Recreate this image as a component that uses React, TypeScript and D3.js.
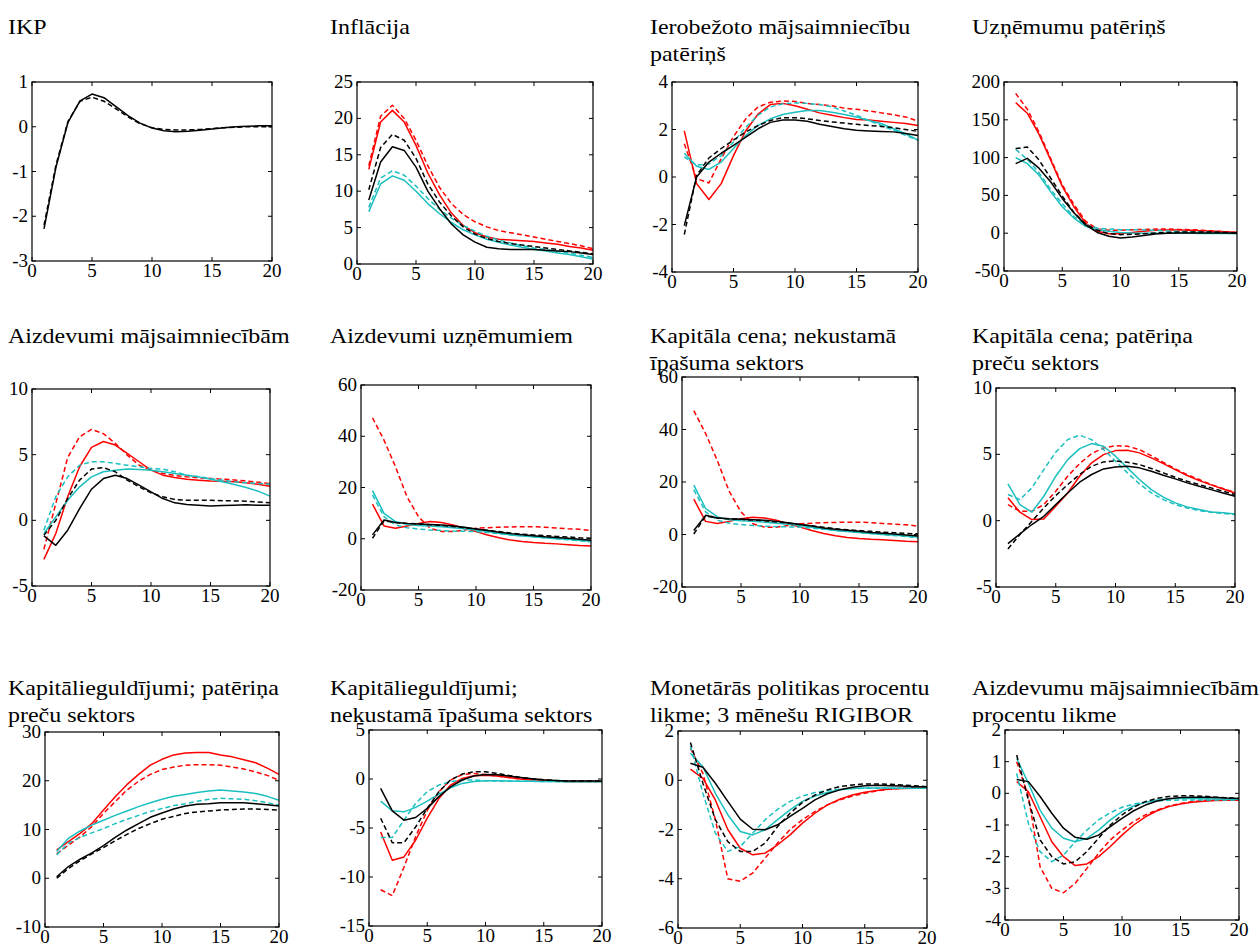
import * as d3 from 'd3';
import React from 'react';

// shared horizon (quarters)
const horizon = [1, 2, 3, 4, 5, 6, 7, 8, 9, 10, 11, 12, 13, 14, 15, 16, 17, 18, 19, 20];
const xTicks = [0, 5, 10, 15, 20];

const RED = '#ff0000';
const CYAN = '#1cbfbf';
const BLACK = '#000000';

// IKP
const ikpBlack = [-2.28, -0.9, 0.1, 0.58, 0.73, 0.65, 0.45, 0.25, 0.08, -0.03, -0.09, -0.11, -0.1, -0.08, -0.05, -0.02, 0.0, 0.01, 0.02, 0.02];
const ikpBlackDash = [-2.2, -0.85, 0.12, 0.57, 0.66, 0.57, 0.4, 0.22, 0.07, -0.02, -0.06, -0.07, -0.07, -0.06, -0.04, -0.02, -0.01, 0.0, 0.0, 0.0];

// Inflacija
const infRed = [13, 19.5, 21.1, 19.5, 16.3, 12.5, 9.5, 7.0, 5.3, 4.3, 3.7, 3.4, 3.3, 3.2, 3.1, 2.9, 2.7, 2.4, 2.2, 1.9];
const infRedDash = [13.5, 20.3, 21.8, 20.0, 17.0, 13.5, 10.5, 8.3, 6.8, 5.8, 5.1, 4.6, 4.3, 4.0, 3.7, 3.4, 3.1, 2.8, 2.5, 2.1];
const infCyan = [7.2, 11.0, 12.1, 11.5, 10.0, 8.3, 6.9, 5.7, 4.7, 4.0, 3.4, 3.0, 2.6, 2.3, 2.0, 1.8, 1.5, 1.3, 1.0, 0.7];
const infCyanDash = [7.8, 11.8, 12.8, 12.2, 10.7, 9.0, 7.5, 6.3, 5.3, 4.5, 3.8, 3.3, 2.9, 2.5, 2.2, 2.0, 1.7, 1.5, 1.2, 0.9];
const infBlack = [8.8, 14.0, 16.1, 15.6, 13.3, 10.0, 7.6, 5.5, 4.0, 3.0, 2.3, 2.1, 2.0, 2.0, 2.0, 1.9, 1.8, 1.7, 1.5, 1.3];
const infBlackDash = [10.2, 16.0, 17.8, 17.0, 14.5, 11.0, 8.5, 6.6, 5.1, 4.1, 3.5, 3.1, 2.8, 2.6, 2.4, 2.2, 2.0, 1.8, 1.6, 1.4];

// Ierobezoto majsaimniecibu paterins
const hhRed = [1.94, -0.28, -0.95, -0.28, 0.9, 1.95, 2.65, 3.05, 3.1, 3.0, 2.85, 2.7, 2.6, 2.5, 2.42, 2.4, 2.35, 2.3, 2.25, 2.17];
const hhRedDash = [1.4, -0.07, -0.25, 0.77, 1.7, 2.45, 2.95, 3.15, 3.2, 3.18, 3.1, 3.05, 3.0, 2.9, 2.85, 2.78, 2.7, 2.62, 2.53, 2.35];
const hhCyan = [1.0, 0.45, 0.32, 0.63, 1.2, 1.75, 2.17, 2.45, 2.63, 2.73, 2.8, 2.8, 2.73, 2.63, 2.53, 2.38, 2.25, 2.03, 1.82, 1.55];
const hhCyanDash = [0.85, 0.5, 0.55, 0.9, 1.47, 2.1, 2.6, 2.95, 3.08, 3.12, 3.1, 3.05, 2.95, 2.78, 2.6, 2.38, 2.17, 1.97, 1.75, 1.55];
const hhBlack = [-2.05, 0.0, 0.63, 1.0, 1.33, 1.68, 2.03, 2.3, 2.4, 2.4, 2.35, 2.22, 2.13, 2.03, 1.97, 1.94, 1.92, 1.9, 1.83, 1.75];
const hhBlackDash = [-2.42, 0.07, 0.8, 1.2, 1.55, 1.9, 2.17, 2.38, 2.5, 2.5, 2.45, 2.38, 2.32, 2.27, 2.22, 2.17, 2.13, 2.08, 2.0, 1.92];

// Uznemumu paterins
const firmRed = [172.8, 158.7, 131, 97, 62, 35, 13.5, 2.5, -0.6, -0.6, 1, 2.5, 3.8, 4.2, 4.2, 3.8, 3.3, 2.5, 2, 1];
const firmRedDash = [185, 164, 134, 99, 64, 38, 16, 5.5, 3.8, 3.8, 4.6, 5, 5.5, 5.5, 5, 4.6, 3.8, 3, 2, 1];
const firmCyan = [100, 92, 77, 55, 35, 20, 9, 4.6, 2.5, 1, 0.3, 0, 0, 0, 0, -0.2, -0.3, -0.4, -0.5, -0.6];
const firmCyanDash = [111, 97.6, 80, 58, 39, 22, 11, 6.8, 5.5, 4.6, 4.6, 4.2, 3.8, 3, 2.5, 2, 1.6, 1, 0.7, 0.3];
const firmBlack = [92, 99, 86, 68, 46, 27, 11, 1, -4, -6.3, -5, -3, -1, 0, 0.3, 0.3, 0.3, 0.3, 0.3, 0];
const firmBlackDash = [112, 114, 97, 73, 49, 27.5, 12, 4, -0.6, -2, -1.5, -0.6, 0.3, 1, 1.6, 1.6, 1.6, 1.6, 1, 0.7];

// Aizdevumi majsaimniecibam
const loanHhRed = [-2.97, -1.0, 1.8, 4.08, 5.55, 6.0, 5.73, 5.1, 4.46, 3.82, 3.44, 3.26, 3.13, 3.06, 3.0, 2.98, 2.93, 2.86, 2.75, 2.6];
const loanHhRedDash = [-2.2, 1.28, 4.78, 6.36, 6.92, 6.6, 5.86, 4.97, 4.2, 3.82, 3.57, 3.41, 3.31, 3.24, 3.19, 3.13, 3.08, 3.0, 2.9, 2.8];
const loanHhCyan = [-1.0, 0.26, 1.53, 2.55, 3.31, 3.7, 3.82, 3.9, 3.87, 3.82, 3.7, 3.57, 3.44, 3.31, 3.13, 2.93, 2.73, 2.5, 2.22, 1.84];
const loanHhCyanDash = [-0.75, 1.8, 3.31, 4.2, 4.46, 4.46, 4.33, 4.2, 4.08, 3.95, 3.9, 3.7, 3.44, 3.31, 3.19, 3.06, 2.93, 2.86, 2.8, 2.75];
const loanHhBlack = [-1.19, -1.9, -0.75, 0.89, 2.37, 3.18, 3.44, 3.18, 2.68, 2.17, 1.66, 1.33, 1.2, 1.15, 1.1, 1.13, 1.15, 1.18, 1.15, 1.15];
const loanHhBlackDash = [-1.14, 0.0, 1.66, 3.06, 3.9, 4.02, 3.7, 3.06, 2.55, 2.09, 1.79, 1.59, 1.53, 1.53, 1.53, 1.5, 1.48, 1.46, 1.4, 1.33];

// Aizdevumi uznemumiem
const loanFirmRed = [13.5, 5.0, 4.1, 5.0, 6.0, 6.7, 6.3, 5.4, 4.1, 2.8, 1.5, 0.4, -0.5, -1.1, -1.5, -1.8, -2.0, -2.3, -2.6, -2.8];
const loanFirmRedDash = [47.2, 38.5, 28.1, 16.4, 8.6, 4.1, 2.8, 2.8, 3.4, 4.1, 4.3, 4.5, 4.6, 4.7, 4.7, 4.5, 4.2, 3.9, 3.7, 3.2];
const loanFirmCyan = [18.8, 9.9, 6.7, 5.6, 5.2, 5.0, 4.7, 4.3, 3.9, 3.4, 2.8, 2.1, 1.5, 1.1, 0.8, 0.4, 0.0, -0.2, -0.6, -1.0];
const loanFirmCyanDash = [17.1, 8.6, 5.4, 4.3, 3.8, 3.4, 3.2, 3.0, 2.9, 2.8, 2.4, 2.0, 1.6, 1.2, 0.8, 0.4, 0.0, -0.4, -0.8, -1.2];
const loanFirmBlack = [1.5, 7.3, 6.3, 6.0, 5.8, 5.6, 5.4, 5.0, 4.5, 3.8, 3.2, 2.5, 2.0, 1.6, 1.2, 0.8, 0.5, 0.2, -0.2, -0.6];
const loanFirmBlackDash = [0.2, 7.0, 6.3, 6.0, 5.8, 5.5, 5.2, 4.8, 4.3, 3.8, 3.3, 2.8, 2.2, 1.8, 1.5, 1.2, 0.9, 0.7, 0.4, 0.2];

// Kapitala cena; nekustama ipasuma sektors
const qHouseRed = [13.5, 5.0, 4.2, 5.0, 6.0, 6.6, 6.3, 5.4, 4.1, 2.8, 1.5, 0.4, -0.5, -1.1, -1.5, -1.8, -2.0, -2.3, -2.6, -2.8];
const qHouseRedDash = [47.2, 38.5, 28.1, 16.4, 8.6, 4.1, 2.8, 2.8, 3.4, 4.1, 4.3, 4.5, 4.6, 4.7, 4.7, 4.5, 4.2, 3.9, 3.7, 3.2];
const qHouseCyan = [18.8, 9.9, 6.7, 5.6, 5.2, 5.0, 4.7, 4.3, 3.9, 3.4, 2.8, 2.1, 1.5, 1.1, 0.8, 0.4, 0.0, -0.2, -0.6, -1.0];
const qHouseCyanDash = [17.1, 8.6, 5.4, 4.3, 3.8, 3.4, 3.2, 3.0, 2.9, 2.8, 2.4, 2.0, 1.6, 1.2, 0.8, 0.4, 0.0, -0.4, -0.8, -1.2];
const qHouseBlack = [1.5, 7.3, 6.3, 6.0, 5.8, 5.6, 5.4, 5.0, 4.5, 3.8, 3.2, 2.5, 2.0, 1.6, 1.2, 0.8, 0.5, 0.2, -0.2, -0.6];
const qHouseBlackDash = [0.2, 7.0, 6.3, 6.0, 5.8, 5.5, 5.2, 4.8, 4.3, 3.8, 3.3, 2.8, 2.2, 1.8, 1.5, 1.2, 0.9, 0.7, 0.4, 0.2];

// Kapitala cena; paterina precu sektors
const qConsRed = [1.72, 0.64, 0.08, 0.13, 1.09, 2.09, 3.35, 4.36, 4.98, 5.28, 5.31, 5.11, 4.73, 4.3, 3.85, 3.4, 3.02, 2.7, 2.39, 2.09];
const qConsRedDash = [1.21, 0.71, 0.71, 1.21, 2.22, 3.35, 4.3, 5.06, 5.48, 5.66, 5.61, 5.36, 4.9, 4.4, 3.9, 3.47, 3.1, 2.72, 2.42, 2.14];
const qConsCyan = [2.77, 1.21, 0.64, 1.84, 3.35, 4.6, 5.43, 5.81, 5.61, 4.86, 3.98, 3.1, 2.34, 1.77, 1.34, 1.04, 0.84, 0.66, 0.59, 0.51];
const qConsCyanDash = [1.97, 1.59, 2.47, 3.85, 5.16, 6.11, 6.44, 6.11, 5.36, 4.48, 3.6, 2.77, 2.09, 1.59, 1.21, 0.96, 0.76, 0.64, 0.54, 0.46];
const qConsBlack = [-1.73, -1.0, -0.29, 0.33, 1.21, 2.09, 2.9, 3.48, 3.9, 4.05, 4.1, 3.98, 3.73, 3.42, 3.15, 2.85, 2.6, 2.34, 2.09, 1.84];
const qConsBlackDash = [-2.13, -1.05, -0.04, 0.96, 1.89, 2.72, 3.48, 4.1, 4.43, 4.5, 4.4, 4.23, 3.93, 3.6, 3.27, 2.97, 2.72, 2.47, 2.22, 1.97];

// Kapitalieguldijumi; paterina precu sektors
const invConsRed = [5.8, 7.5, 9.2, 11.2, 14.0, 16.7, 19.2, 21.3, 23.2, 24.4, 25.3, 25.7, 25.8, 25.8, 25.3, 24.9, 24.3, 23.7, 22.6, 21.3];
const invConsRedDash = [5.0, 6.8, 8.5, 10.6, 13.3, 15.7, 18.1, 19.9, 21.3, 22.3, 22.8, 23.2, 23.3, 23.3, 23.2, 22.8, 22.4, 21.8, 21.1, 20.1];
const invConsCyan = [5.5, 8.2, 9.7, 10.9, 11.9, 12.9, 13.8, 14.7, 15.5, 16.2, 16.8, 17.2, 17.6, 17.9, 18.1, 17.9, 17.7, 17.4, 16.8, 16.0];
const invConsCyanDash = [4.8, 7.2, 8.4, 9.3, 10.2, 11.2, 12.1, 12.9, 13.7, 14.3, 14.9, 15.3, 15.8, 16.2, 16.4, 16.3, 16.2, 15.9, 15.5, 15.0];
const invConsBlack = [0.3, 2.4, 3.9, 5.2, 6.7, 8.4, 9.9, 11.2, 12.5, 13.4, 14.2, 14.8, 15.2, 15.3, 15.5, 15.5, 15.5, 15.3, 15.1, 14.8];
const invConsBlackDash = [0.0, 2.0, 3.6, 5.0, 6.3, 7.7, 9.0, 10.2, 11.2, 12.1, 12.7, 13.3, 13.6, 13.8, 14.0, 14.1, 14.2, 14.2, 14.1, 14.0];

// Kapitalieguldijumi; nekustama ipasuma sektors
const invHouseRed = [-5.4, -8.3, -7.95, -6.25, -4.0, -2.0, -0.62, 0.06, 0.33, 0.37, 0.3, 0.16, 0.0, -0.08, -0.15, -0.2, -0.25, -0.25, -0.25, -0.25];
const invHouseRedDash = [-11.3, -11.9, -9.0, -5.9, -3.2, -1.3, -0.1, 0.45, 0.57, 0.45, 0.3, 0.16, 0.0, -0.08, -0.15, -0.2, -0.25, -0.25, -0.25, -0.25];
const invHouseCyan = [-2.26, -3.25, -3.35, -2.9, -2.26, -1.54, -0.9, -0.45, -0.25, -0.18, -0.18, -0.2, -0.22, -0.24, -0.25, -0.26, -0.27, -0.27, -0.28, -0.28];
const invHouseCyanDash = [-5.97, -5.97, -4.2, -2.5, -1.3, -0.62, -0.28, -0.1, -0.1, -0.18, -0.2, -0.22, -0.23, -0.24, -0.25, -0.25, -0.25, -0.25, -0.25, -0.25];
const invHouseBlack = [-0.96, -3.25, -4.2, -3.93, -3.0, -1.8, -0.8, -0.1, 0.3, 0.47, 0.43, 0.3, 0.16, 0.02, -0.08, -0.15, -0.2, -0.2, -0.2, -0.2];
const invHouseBlackDash = [-4.0, -6.5, -6.5, -4.9, -3.0, -1.3, -0.1, 0.5, 0.74, 0.74, 0.57, 0.37, 0.16, 0.02, -0.08, -0.15, -0.2, -0.2, -0.2, -0.2];

// Monetaras politikas procentu likme; 3 menesu RIGIBOR
const rateRed = [0.45, 0.08, -0.8, -2.0, -2.76, -3.03, -2.96, -2.62, -2.22, -1.74, -1.34, -1.0, -0.77, -0.6, -0.49, -0.42, -0.36, -0.34, -0.32, -0.31];
const rateRedDash = [1.3, 0.28, -1.6, -4.0, -4.1, -3.77, -3.16, -2.55, -2.0, -1.6, -1.27, -1.0, -0.8, -0.64, -0.53, -0.43, -0.36, -0.32, -0.3, -0.28];
const rateCyan = [1.1, 0.55, -0.53, -1.4, -2.08, -2.22, -2.01, -1.6, -1.2, -0.86, -0.64, -0.5, -0.39, -0.34, -0.31, -0.31, -0.31, -0.32, -0.32, -0.32];
const rateCyanDash = [1.39, -0.53, -2.15, -2.89, -2.69, -2.15, -1.6, -1.18, -0.86, -0.64, -0.5, -0.42, -0.36, -0.34, -0.32, -0.32, -0.32, -0.32, -0.32, -0.32];
const rateBlack = [0.69, 0.53, -0.12, -0.86, -1.58, -1.99, -2.01, -1.81, -1.47, -1.14, -0.8, -0.55, -0.39, -0.28, -0.22, -0.2, -0.22, -0.23, -0.26, -0.26];
const rateBlackDash = [1.53, -0.12, -1.6, -2.49, -2.89, -2.89, -2.55, -1.88, -1.34, -0.9, -0.6, -0.39, -0.26, -0.19, -0.15, -0.15, -0.16, -0.19, -0.22, -0.26];

// Aizdevumu majsaimniecibam procentu likme
const lrateRed = [0.37, 0.05, -0.74, -1.53, -2.0, -2.28, -2.23, -2.0, -1.68, -1.32, -1.0, -0.74, -0.55, -0.42, -0.34, -0.28, -0.25, -0.23, -0.22, -0.22];
const lrateRedDash = [1.0, -0.1, -2.32, -3.0, -3.14, -2.84, -2.37, -1.89, -1.47, -1.16, -0.89, -0.68, -0.53, -0.4, -0.32, -0.26, -0.22, -0.21, -0.21, -0.21];
const lrateCyan = [1.1, 0.32, -0.53, -1.1, -1.42, -1.53, -1.42, -1.16, -0.84, -0.58, -0.4, -0.28, -0.21, -0.17, -0.16, -0.16, -0.17, -0.18, -0.19, -0.19];
const lrateCyanDash = [0.63, -0.95, -1.84, -2.16, -1.95, -1.53, -1.16, -0.84, -0.61, -0.44, -0.34, -0.27, -0.24, -0.22, -0.21, -0.21, -0.21, -0.21, -0.21, -0.21];
const lrateBlack = [0.44, 0.37, -0.1, -0.63, -1.1, -1.39, -1.45, -1.32, -1.05, -0.79, -0.55, -0.37, -0.24, -0.17, -0.13, -0.12, -0.12, -0.13, -0.15, -0.16];
const lrateBlackDash = [1.21, -0.21, -1.47, -2.0, -2.23, -2.16, -1.84, -1.42, -1.0, -0.68, -0.44, -0.26, -0.16, -0.1, -0.08, -0.08, -0.09, -0.12, -0.14, -0.16];

const six = (r, rd, c, cd, b, bd) => [
  { values: r, color: RED, dashed: false },
  { values: rd, color: RED, dashed: true },
  { values: c, color: CYAN, dashed: false },
  { values: cd, color: CYAN, dashed: true },
  { values: b, color: BLACK, dashed: false },
  { values: bd, color: BLACK, dashed: true },
];

// box = [left, top, right, bottom] in page pixels
const panels = [
  { title: ['IKP'], tx: 8, ty: 34, box: [32, 82, 272, 261], y: [-3, 1], yTicks: [-3, -2, -1, 0, 1],
    lines: [{ values: ikpBlack, color: BLACK, dashed: false }, { values: ikpBlackDash, color: BLACK, dashed: true }] },
  { title: ['Inflācija'], tx: 330, ty: 34, box: [357, 82, 593, 264], y: [0, 25], yTicks: [0, 5, 10, 15, 20, 25],
    lines: six(infRed, infRedDash, infCyan, infCyanDash, infBlack, infBlackDash) },
  { title: ['Ierobežoto mājsaimniecību', 'patēriņš'], tx: 650, ty: 34, box: [672, 82, 918, 272], y: [-4, 4], yTicks: [-4, -2, 0, 2, 4],
    lines: six(hhRed, hhRedDash, hhCyan, hhCyanDash, hhBlack, hhBlackDash) },
  { title: ['Uzņēmumu patēriņš'], tx: 972, ty: 34, box: [1004, 82, 1237, 271], y: [-50, 200], yTicks: [-50, 0, 50, 100, 150, 200],
    lines: six(firmRed, firmRedDash, firmCyan, firmCyanDash, firmBlack, firmBlackDash) },

  { title: ['Aizdevumi mājsaimniecībām'], tx: 8, ty: 343, box: [32, 389, 270, 586], y: [-5, 10], yTicks: [-5, 0, 5, 10],
    lines: six(loanHhRed, loanHhRedDash, loanHhCyan, loanHhCyanDash, loanHhBlack, loanHhBlackDash) },
  { title: ['Aizdevumi uzņēmumiem'], tx: 330, ty: 343, box: [361, 385, 591, 590], y: [-20, 60], yTicks: [-20, 0, 20, 40, 60],
    lines: six(loanFirmRed, loanFirmRedDash, loanFirmCyan, loanFirmCyanDash, loanFirmBlack, loanFirmBlackDash) },
  { title: ['Kapitāla cena; nekustamā', 'īpašuma sektors'], tx: 650, ty: 343, box: [682, 377, 918, 587], y: [-20, 60], yTicks: [-20, 0, 20, 40, 60],
    lines: six(qHouseRed, qHouseRedDash, qHouseCyan, qHouseCyanDash, qHouseBlack, qHouseBlackDash) },
  { title: ['Kapitāla cena; patēriņa', 'preču sektors'], tx: 972, ty: 343, box: [996, 388, 1235, 587], y: [-5, 10], yTicks: [-5, 0, 5, 10],
    lines: six(qConsRed, qConsRedDash, qConsCyan, qConsCyanDash, qConsBlack, qConsBlackDash) },

  { title: ['Kapitālieguldījumi; patēriņa', 'preču sektors'], tx: 8, ty: 695, box: [45, 732, 279, 927], y: [-10, 30], yTicks: [-10, 0, 10, 20, 30],
    lines: six(invConsRed, invConsRedDash, invConsCyan, invConsCyanDash, invConsBlack, invConsBlackDash) },
  { title: ['Kapitālieguldījumi;', 'nekustamā īpašuma sektors'], tx: 330, ty: 695, box: [369, 730, 602, 926], y: [-15, 5], yTicks: [-15, -10, -5, 0, 5],
    lines: six(invHouseRed, invHouseRedDash, invHouseCyan, invHouseCyanDash, invHouseBlack, invHouseBlackDash) },
  { title: ['Monetārās politikas procentu', 'likme; 3 mēnešu RIGIBOR'], tx: 650, ty: 695, box: [678, 731, 927, 928], y: [-6, 2], yTicks: [-6, -4, -2, 0, 2],
    lines: six(rateRed, rateRedDash, rateCyan, rateCyanDash, rateBlack, rateBlackDash) },
  { title: ['Aizdevumu mājsaimniecībām', 'procentu likme'], tx: 972, ty: 695, box: [1005, 730, 1239, 920], y: [-4, 2], yTicks: [-4, -3, -2, -1, 0, 1, 2],
    lines: six(lrateRed, lrateRedDash, lrateCyan, lrateCyanDash, lrateBlack, lrateBlackDash) },
];

const FONT = 'Liberation Serif, DejaVu Serif, serif';

function Panel({ p }) {
  const [l, t, r, b] = p.box;
  const x = d3.scaleLinear().domain([0, 20]).range([l, r]);
  const y = d3.scaleLinear().domain(p.y).range([b, t]);
  const line = d3.line().x((d, i) => x(horizon[i])).y(d => y(d));
  const tick = 4;
  return (
    <g>
      {p.title.map((s, i) => (
        <text key={i} transform={`translate(${p.tx},${p.ty + i * 27}) scale(1.09,1)`}
          fontSize={22} fontFamily={FONT}>{s}</text>
      ))}
      {p.lines.map((s, i) => (
        <path key={i} d={line(s.values)} fill="none" stroke={s.color} strokeWidth={1.5}
          strokeDasharray={s.dashed ? '5,3' : null} strokeLinejoin="round" />
      ))}
      <rect x={l} y={t} width={r - l} height={b - t} fill="none" stroke="#000" strokeWidth={1.2} />
      {xTicks.map(v => (
        <g key={'x' + v}>
          <line x1={x(v)} x2={x(v)} y1={b} y2={b - tick} stroke="#000" />
          <line x1={x(v)} x2={x(v)} y1={t} y2={t + tick} stroke="#000" />
          <text x={x(v)} y={b + 16} fontSize={19} fontFamily={FONT} textAnchor="middle">{v}</text>
        </g>
      ))}
      {p.yTicks.map(v => (
        <g key={'y' + v}>
          <line x1={l} x2={l + tick} y1={y(v)} y2={y(v)} stroke="#000" />
          <line x1={r} x2={r - tick} y1={y(v)} y2={y(v)} stroke="#000" />
          <text x={l - 4} y={y(v)} dy="0.32em" fontSize={19} fontFamily={FONT} textAnchor="end">{v}</text>
        </g>
      ))}
    </g>
  );
}

export default function App() {
  return (
    <div style={{ position: 'absolute', left: 0, top: 0 }}>
      <svg width={1260} height={947} style={{ display: 'block', background: '#fff' }}>
        {panels.map((p, i) => <Panel key={i} p={p} />)}
      </svg>
    </div>
  );
}
